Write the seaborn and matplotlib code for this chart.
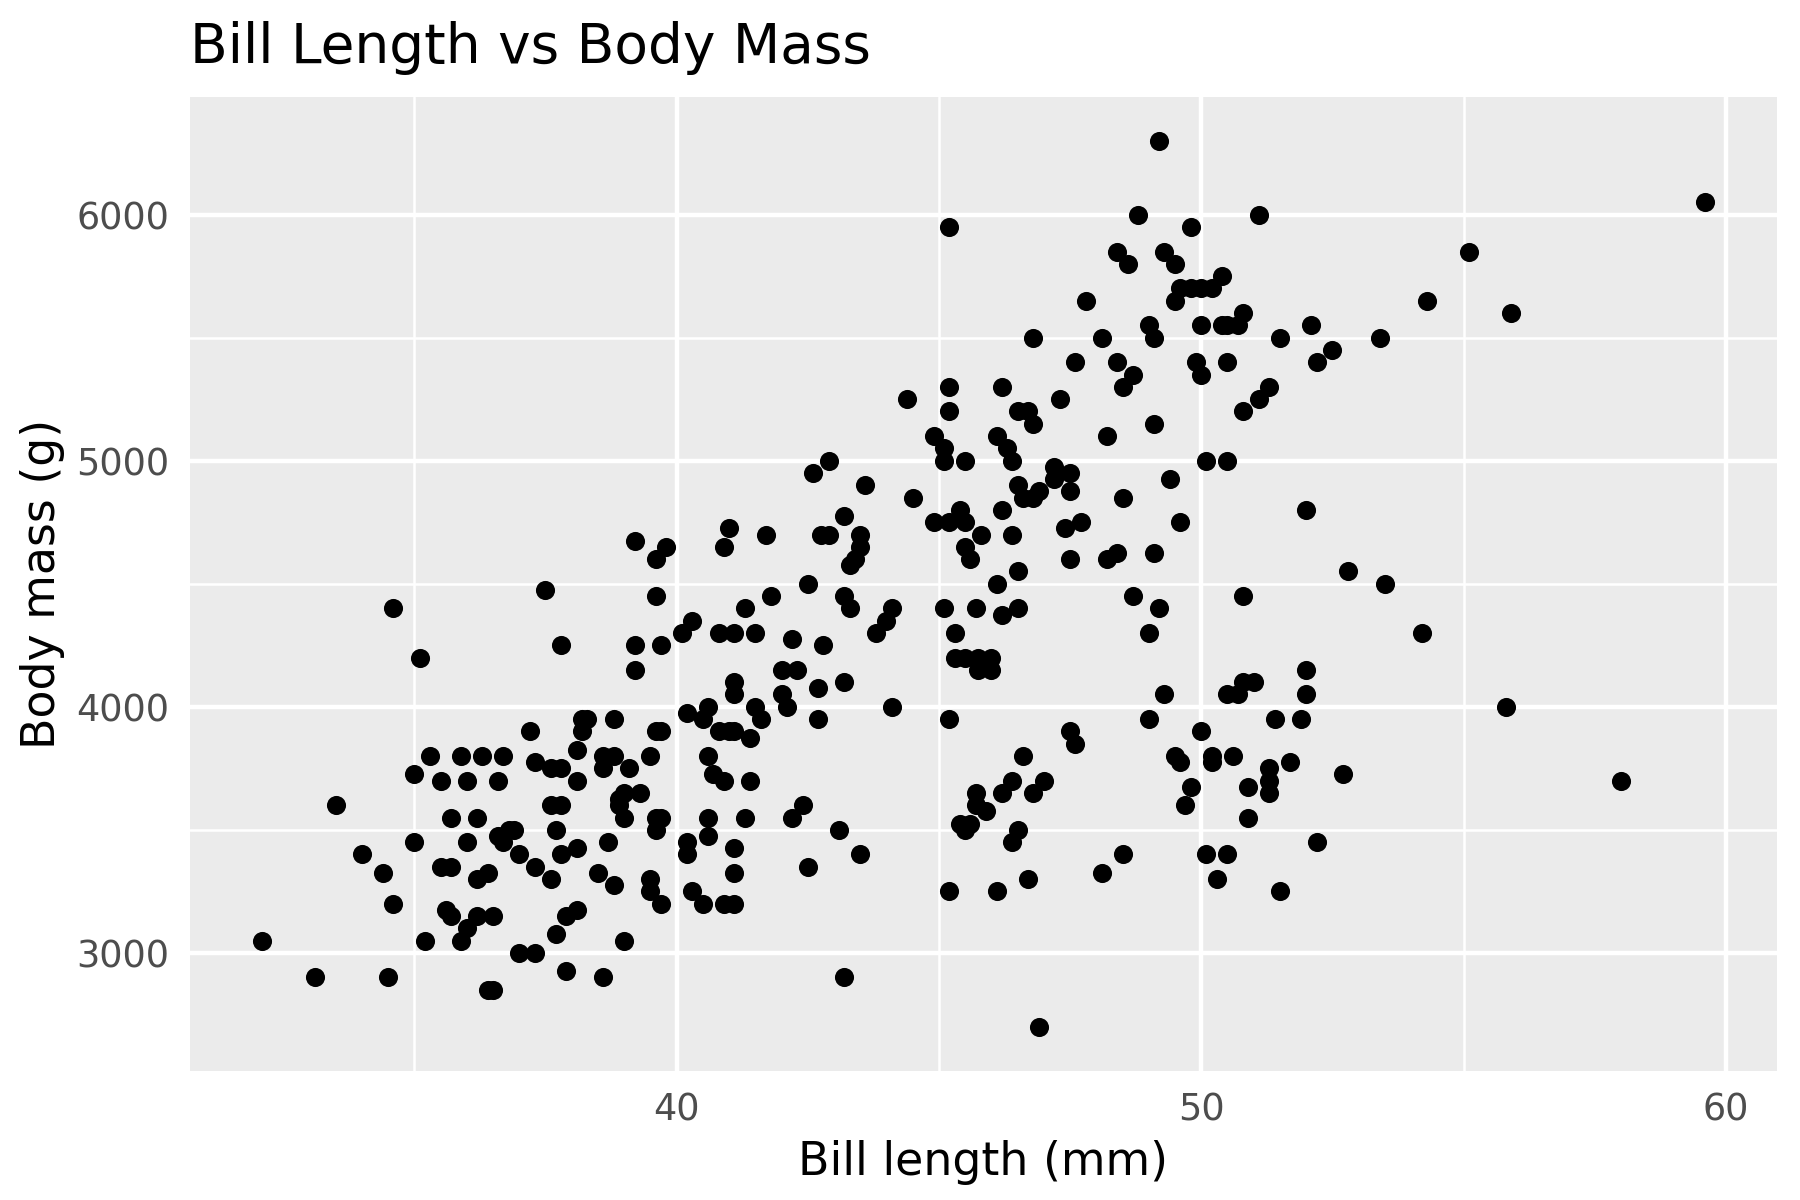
import numpy as np
import pandas as pd
import matplotlib
matplotlib.use("Agg")
import matplotlib.pyplot as plt
from matplotlib.ticker import MultipleLocator
import seaborn as sns

# Bill length (mm) and body mass (g), one pair per point
bill_length_mm = [
    45.2, 44.4, 45.2, 45.2, 49.2, 48.8, 51.1, 49.8, 48.4, 48.6, 49.3, 49.5, 50.4, 49.6, 49.8, 50.0, 50.2, 49.5, 47.8, 50.8,
    49.0, 49.1, 50.0, 50.4, 50.5, 50.7, 51.5, 52.1, 53.4, 46.8, 48.1, 52.5, 52.2, 47.6, 48.4, 48.7, 48.5, 49.9, 50.0, 50.5,
    51.3, 51.1, 50.8, 46.2, 47.3, 46.5, 46.7, 46.8, 49.1, 59.6, 55.1, 54.3, 55.9,
    54.2, 55.8, 58.0,
    34.6, 35.1, 37.5, 37.8, 37.2,
    44.9, 45.1, 45.1, 45.5, 42.9, 42.6, 43.6, 44.5, 43.2, 44.9, 45.2, 45.4, 45.5, 45.5, 45.6, 45.8, 41.0, 40.9, 41.7, 42.75,
    42.9, 43.5, 43.5, 43.4, 43.3, 39.2, 39.8, 39.6, 39.6, 42.5, 41.8, 41.3, 43.2, 43.3, 44.1, 44.0, 43.8, 40.3, 40.1, 40.8,
    41.1, 41.5, 42.2, 42.8, 39.2, 39.7, 39.2, 42.0, 42.3, 41.1, 41.1, 42.0, 42.1, 42.7, 43.2, 44.1, 45.1, 45.7, 45.3, 45.2,
    45.3, 45.5, 45.75, 46.0, 45.75, 46.0,
    38.2, 38.3, 38.2, 38.8, 39.6, 39.7, 40.2, 40.6, 40.5, 40.8, 41.0, 41.1, 41.4, 41.5, 41.6, 42.7,
    46.1, 46.3, 46.4, 48.2, 50.1, 50.5, 47.2, 47.5, 47.2, 46.5, 46.9, 46.6, 46.8, 47.5, 49.4, 48.5, 46.2, 49.6, 52.0, 46.4,
    47.4, 47.7, 47.5, 48.2, 48.4, 49.1, 46.5, 46.1, 52.8, 53.5, 50.8, 48.7, 49.2, 49.0, 46.2, 46.5, 52.0, 50.8, 51.0, 50.5,
    50.7, 52.0, 49.3, 49.0, 50.0, 51.4, 51.9, 47.5, 47.6,
    35.3, 35.9, 36.3, 36.7, 37.3, 37.6, 37.8, 35.0, 35.5, 36.0, 36.6, 33.5, 37.6, 37.8, 35.7, 36.2, 37.7, 35.0, 36.0, 36.6,
    36.8, 36.9, 36.7, 37.0, 37.3, 37.6, 37.8, 34.0, 34.4, 34.6, 35.5, 35.7, 36.2, 36.4, 35.6, 35.7, 36.2, 36.5, 36.0, 35.9,
    35.2, 32.1, 37.0, 37.3, 37.9, 37.7, 33.1, 34.5, 36.4, 36.5,
    38.1, 38.6, 38.8, 39.5, 38.6, 39.1, 38.1, 39.0, 38.9, 38.9, 39.0, 39.3, 39.6, 39.7, 39.6, 40.6, 40.7, 40.9, 41.4, 40.6,
    41.3, 42.2, 42.4, 43.1, 43.5, 42.5, 45.2, 45.7, 45.7, 45.4, 45.6, 45.5, 40.2, 40.2, 40.6, 41.1, 41.1, 40.3, 40.5, 40.9,
    41.1, 38.1, 38.7, 38.5, 38.8, 39.5, 39.5, 39.7, 38.1, 37.9, 39.0, 38.6, 43.2,
    46.6, 49.5, 49.6, 50.2, 50.2, 50.6, 51.3, 51.3, 51.3, 51.7, 52.7, 50.9, 50.9, 49.8, 49.7, 46.4, 46.2, 45.9, 47.0, 46.8,
    46.5, 46.4, 48.5, 48.1, 46.7, 46.1, 50.1, 50.5, 50.3, 52.2, 51.5, 46.9,
]
body_mass_g = [
    5950, 5250, 5300, 5200, 6300, 6000, 6000, 5950, 5850, 5800, 5850, 5800, 5750, 5700, 5700, 5700, 5700, 5650, 5650, 5600,
    5550, 5500, 5550, 5550, 5550, 5550, 5500, 5550, 5500, 5500, 5500, 5450, 5400, 5400, 5400, 5350, 5300, 5400, 5350, 5400,
    5300, 5250, 5200, 5300, 5250, 5200, 5200, 5150, 5150, 6050, 5850, 5650, 5600,
    4300, 4000, 3700,
    4400, 4200, 4475, 4250, 3900,
    5100, 5050, 5000, 5000, 5000, 4950, 4900, 4850, 4775, 4750, 4750, 4800, 4750, 4650, 4600, 4700, 4725, 4650, 4700, 4700,
    4700, 4700, 4650, 4600, 4575, 4675, 4650, 4600, 4450, 4500, 4450, 4400, 4450, 4400, 4400, 4350, 4300, 4350, 4300, 4300,
    4300, 4300, 4275, 4250, 4250, 4250, 4150, 4150, 4150, 4100, 4050, 4050, 4000, 4075, 4100, 4000, 4400, 4400, 4300, 3950,
    4200, 4200, 4200, 4200, 4150, 4150,
    3950, 3950, 3900, 3950, 3900, 3900, 3975, 4000, 3950, 3900, 3900, 3900, 3875, 4000, 3950, 3950,
    5100, 5050, 5000, 5100, 5000, 5000, 4975, 4950, 4925, 4900, 4875, 4850, 4850, 4875, 4925, 4850, 4800, 4750, 4800, 4700,
    4725, 4750, 4600, 4600, 4625, 4625, 4550, 4500, 4550, 4500, 4450, 4450, 4400, 4300, 4375, 4400, 4150, 4100, 4100, 4050,
    4050, 4050, 4050, 3950, 3900, 3950, 3950, 3900, 3850,
    3800, 3800, 3800, 3800, 3775, 3750, 3750, 3725, 3700, 3700, 3700, 3600, 3600, 3600, 3550, 3550, 3500, 3450, 3450, 3475,
    3500, 3500, 3450, 3400, 3350, 3300, 3400, 3400, 3325, 3200, 3350, 3350, 3300, 3325, 3175, 3150, 3150, 3150, 3100, 3050,
    3050, 3050, 3000, 3000, 2925, 3075, 2900, 2900, 2850, 2850,
    3825, 3800, 3800, 3800, 3750, 3750, 3700, 3650, 3625, 3600, 3550, 3650, 3550, 3550, 3500, 3800, 3725, 3700, 3700, 3550,
    3550, 3550, 3600, 3500, 3400, 3350, 3250, 3650, 3600, 3525, 3525, 3500, 3450, 3400, 3475, 3425, 3325, 3250, 3200, 3200,
    3200, 3425, 3450, 3325, 3275, 3300, 3250, 3200, 3175, 3150, 3050, 2900, 2900,
    3800, 3800, 3775, 3800, 3775, 3800, 3750, 3700, 3650, 3775, 3725, 3675, 3550, 3675, 3600, 3700, 3650, 3575, 3700, 3650,
    3500, 3450, 3400, 3325, 3300, 3250, 3400, 3400, 3300, 3450, 3250, 2700,
]

title_text = "Bill Length vs Body Mass"
x_label = "Bill length (mm)"
y_label = "Body mass (g)"

penguins = pd.DataFrame({"bill_length_mm": bill_length_mm, "body_mass_g": body_mass_g})

# ggplot-like grey panel with white grid
sns.set_style("darkgrid", {"axes.facecolor": "#EBEBEB", "grid.color": "white"})
plt.rcParams["font.family"] = ["DejaVu Sans"]
plt.rcParams["text.color"] = "black"
plt.rcParams["axes.labelcolor"] = "black"

fig = plt.figure(figsize=(6, 4), dpi=300)
ax = fig.add_axes([190 / 1800, 1 - 1071 / 1200, (1777 - 190) / 1800, (1071 - 96.5) / 1200])

sns.scatterplot(data=penguins, x="bill_length_mm", y="body_mass_g",
                color="black", s=21, linewidth=0, ax=ax, zorder=3)

# 5% padding on both axes, like ggplot
xmin, xmax = penguins["bill_length_mm"].min(), penguins["bill_length_mm"].max()
ymin, ymax = penguins["body_mass_g"].min(), penguins["body_mass_g"].max()
ax.set_xlim(xmin - 0.05 * (xmax - xmin), xmax + 0.05 * (xmax - xmin))
ax.set_ylim(ymin - 0.05 * (ymax - ymin), ymax + 0.05 * (ymax - ymin))

ax.xaxis.set_major_locator(MultipleLocator(10))
ax.xaxis.set_minor_locator(MultipleLocator(5))
ax.yaxis.set_major_locator(MultipleLocator(1000))
ax.yaxis.set_minor_locator(MultipleLocator(500))

ax.grid(which="major", color="white", linewidth=1.07)
ax.grid(which="minor", color="white", linewidth=0.6)
ax.set_axisbelow(True)
for spine in ax.spines.values():
    spine.set_visible(False)

ax.tick_params(which="major", length=2.75, width=1.0, color="#333333",
               labelsize=8.8, labelcolor="#4D4D4D", pad=2.2)
ax.tick_params(which="minor", length=0)

ax.set_xlabel(x_label, fontsize=11, labelpad=2.75, color="black")
ax.set_ylabel(y_label, fontsize=11, labelpad=2.75, color="black")
ax.set_title(title_text, loc="left", fontsize=13.2, pad=8, color="black")

fig.savefig("out.png", dpi=300)
